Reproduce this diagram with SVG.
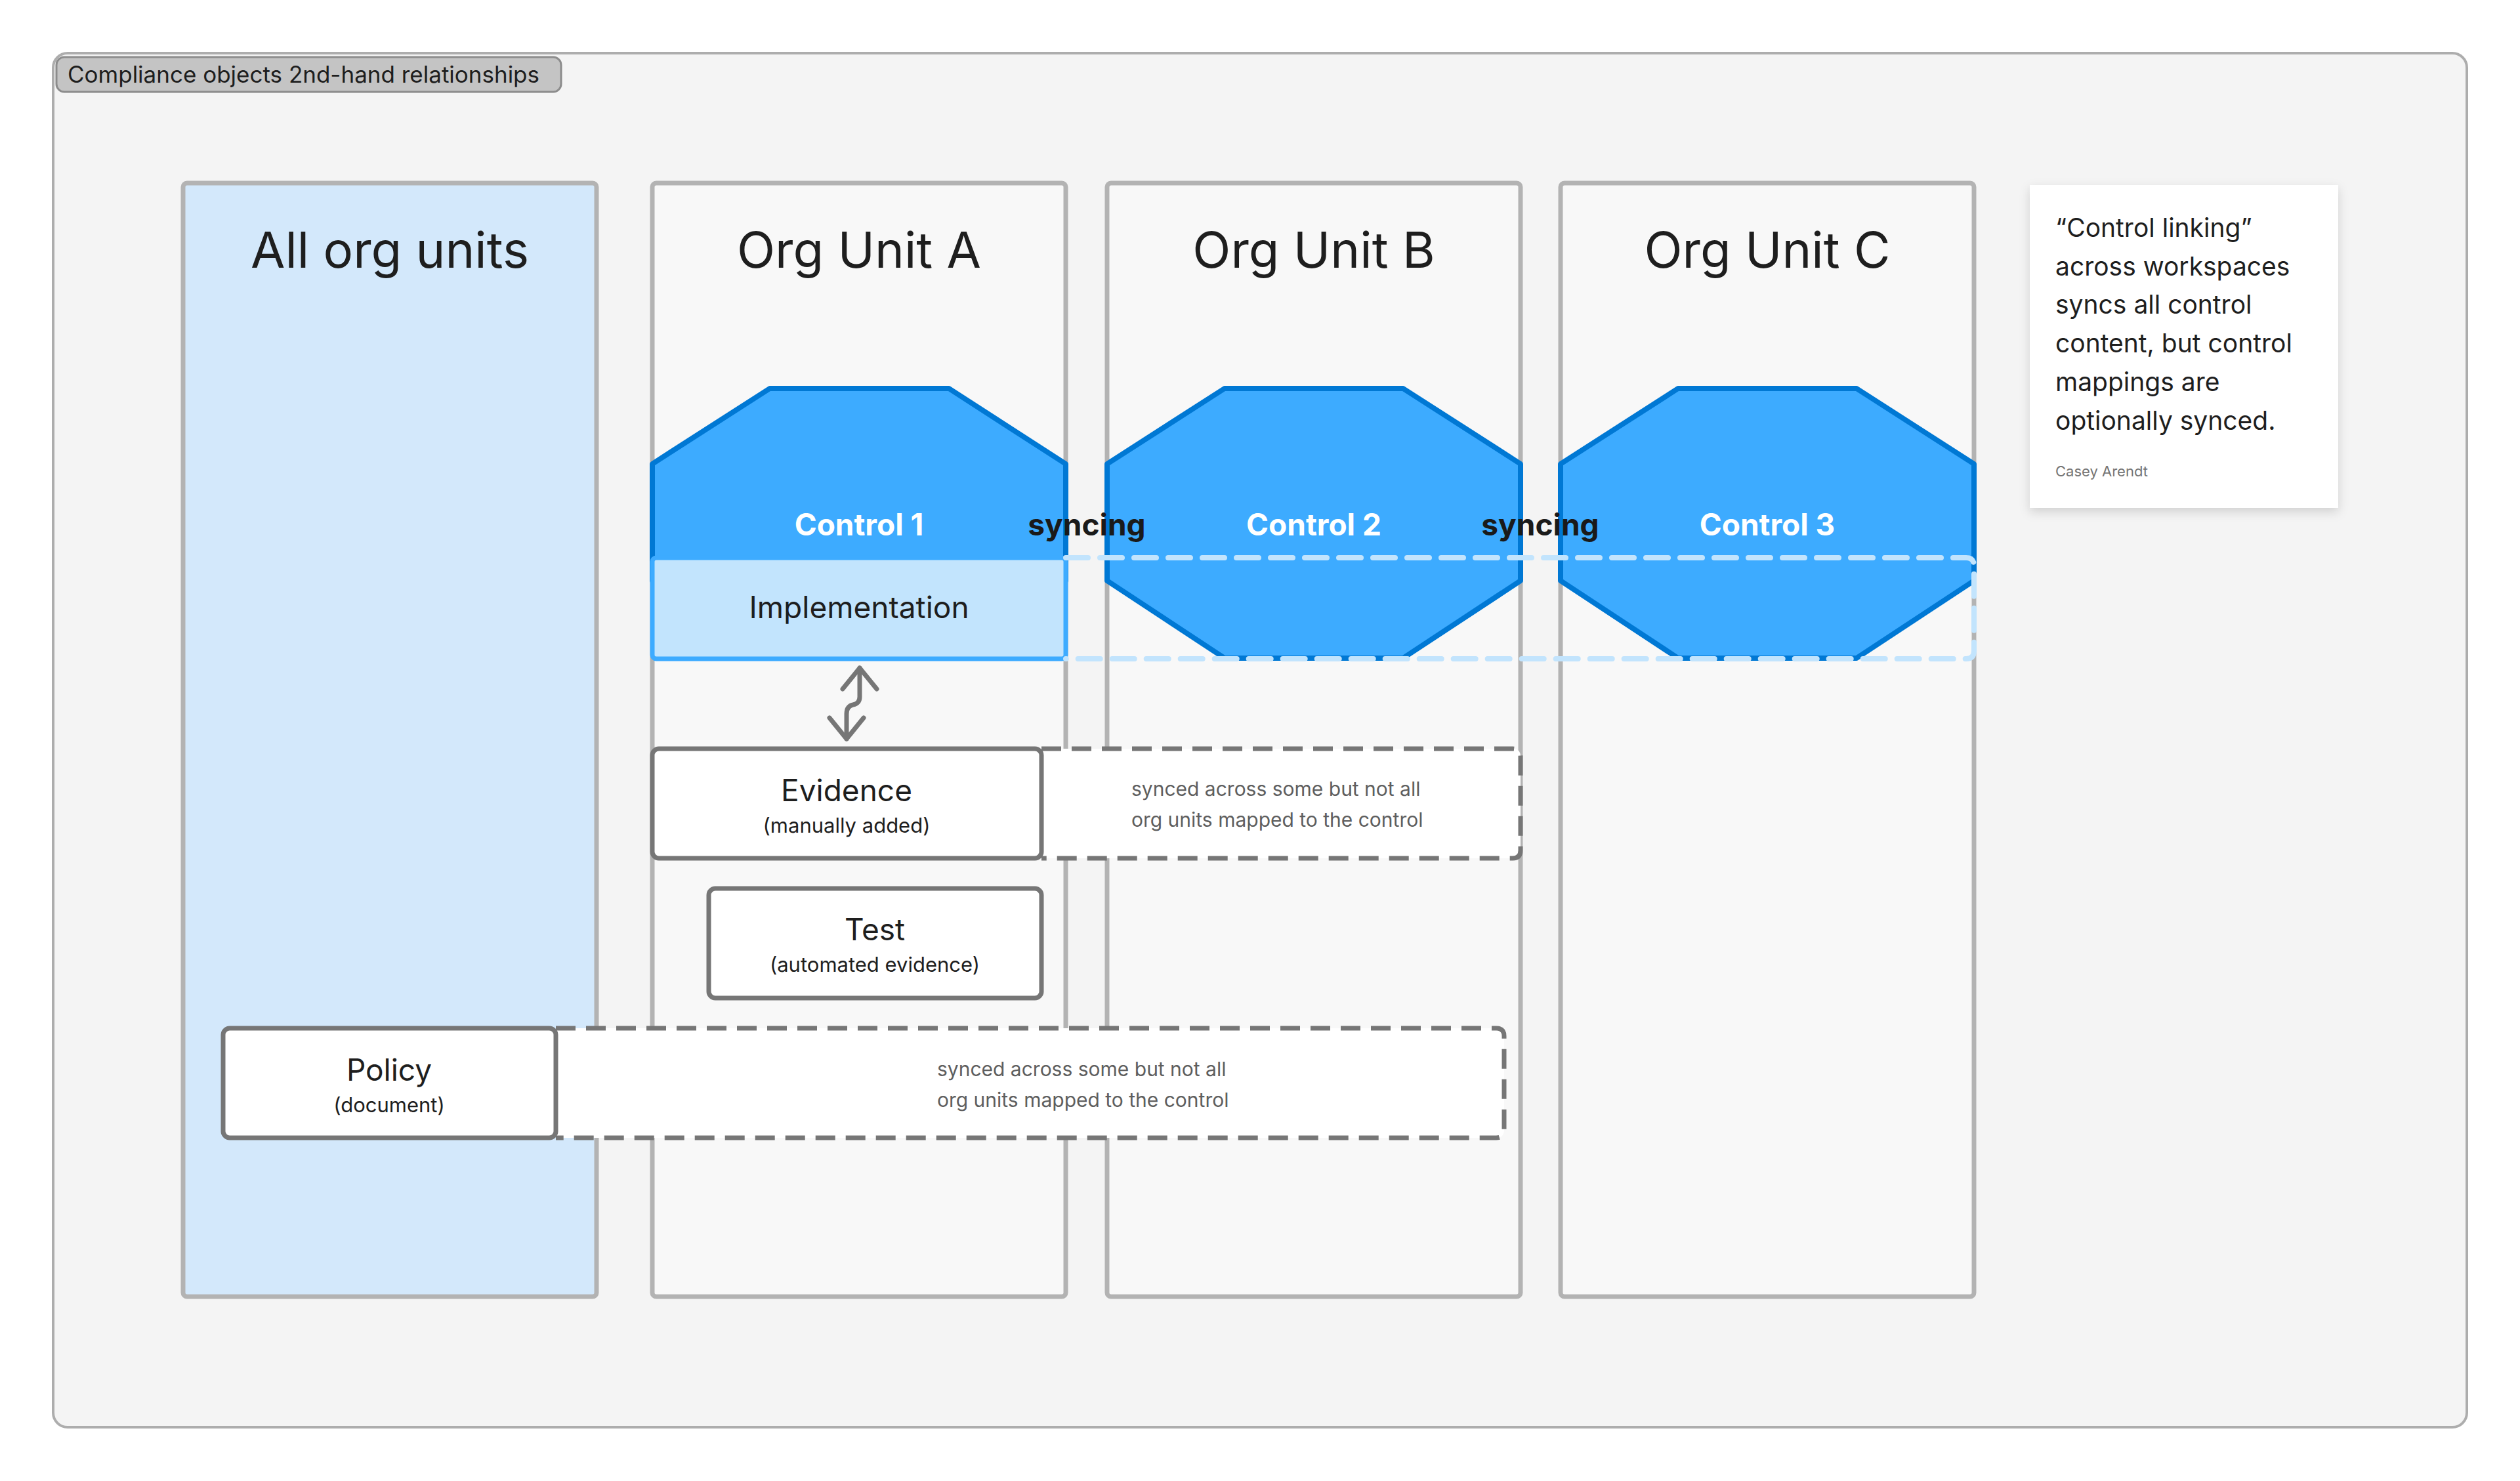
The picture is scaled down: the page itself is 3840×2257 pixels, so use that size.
<svg xmlns="http://www.w3.org/2000/svg" width="3840" height="2257" viewBox="0 0 3840 2257">
<style>
.col{fill:#f8f8f8;stroke:#b3b3b3;stroke-width:7}
.title{font-family:Inter,"Liberation Sans",sans-serif;font-size:76px;fill:#1e1e1e;text-anchor:middle}
.ctrl{fill:#3dabff;stroke:#0078d4;stroke-width:8;stroke-linejoin:round}
.ctext{font-family:Inter,"Liberation Sans",sans-serif;font-size:46px;font-weight:bold;fill:#fff;text-anchor:middle}
.sync{font-family:Inter,"Liberation Sans",sans-serif;font-size:46px;font-weight:bold;fill:#1a1a1a;text-anchor:middle}
.box{fill:#fff;stroke:#767676;stroke-width:7}
.dash{fill:#fff;stroke:#767676;stroke-width:7;stroke-dasharray:30 16}
.bt{font-family:Inter,"Liberation Sans",sans-serif;font-size:46px;fill:#1e1e1e;text-anchor:middle}
.bs{font-family:Inter,"Liberation Sans",sans-serif;font-size:31px;fill:#1e1e1e;text-anchor:middle}
.note{font-family:Inter,"Liberation Sans",sans-serif;font-size:30px;fill:#5e5e5e}
.st{font-family:Inter,"Liberation Sans",sans-serif;font-size:39px;fill:#1e1e1e}
.arr{fill:none;stroke:#767676;stroke-width:7;stroke-linecap:round;stroke-linejoin:round}
</style>
<defs>
<filter id="sh" x="-10%" y="-10%" width="120%" height="130%"><feDropShadow dx="0" dy="6" stdDeviation="8" flood-color="#000" flood-opacity="0.15"/></filter>
</defs>
<rect width="3840" height="2257" fill="#ffffff"/>
<g id="frame">
<rect x="81" y="81" width="3678" height="2094" rx="22" fill="#f4f4f4" stroke="#adadad" stroke-width="4"/>
<rect x="86" y="87" width="769" height="53" rx="12" fill="#c4c4c4" stroke="#8c8c8c" stroke-width="3"/>
<text x="103" y="126" font-family="Inter,'Liberation Sans',sans-serif" font-size="35" fill="#1e1e1e">Compliance objects 2nd-hand relationships</text>
</g>
<g id="col-all"><rect x="279" y="279" width="630" height="1697" rx="6" fill="#d3e8fb" stroke="#b3b3b3" stroke-width="7"/><text class="title" x="594" y="408">All org units</text></g>
<g id="col-a"><rect class="col" x="994" y="279" width="630" height="1697" rx="6"/><text class="title" x="1309" y="408">Org Unit A</text></g>
<g id="col-b"><rect class="col" x="1687" y="279" width="630" height="1697" rx="6"/><text class="title" x="2002" y="408">Org Unit B</text></g>
<g id="col-c"><rect class="col" x="2378" y="279" width="630" height="1697" rx="6"/><text class="title" x="2693" y="408">Org Unit C</text></g>
<g id="control1"><polygon class="ctrl" points="1173,592 1446,592 1624,707 1624,885 1446,1003 1173,1003 994,885 994,707"/><text class="ctext" x="1309" y="816">Control 1</text></g>
<g id="control2"><polygon class="ctrl" points="1866,592 2138,592 2317,707 2317,885 2138,1003 1866,1003 1687,885 1687,707"/><text class="ctext" x="2002" y="816">Control 2</text></g>
<g id="control3"><polygon class="ctrl" points="2557,592 2829,592 3008,707 3008,885 2829,1003 2557,1003 2378,885 2378,707"/><text class="ctext" x="2693" y="816">Control 3</text></g>
<g id="implementation"><rect x="994" y="850" width="630" height="154" rx="6" fill="#c2e4fd" stroke="#3dabff" stroke-width="7"/><text class="bt" x="1309" y="942">Implementation</text></g>
<g id="syncing"><text class="sync" x="1656" y="816">syncing</text><text class="sync" x="2347" y="816">syncing</text></g>
<g id="sync-region"><path d="M1624,850 H2996 Q3008,850 3008,862 V992 Q3008,1004 2996,1004 H1624" fill="none" stroke="#c2e4fd" stroke-width="8" stroke-dasharray="34 18" stroke-linecap="round"/></g>
<g id="evidence">
<path class="dash" d="M1587,1141 H2305 Q2317,1141 2317,1153 V1296 Q2317,1308 2305,1308 H1587"/>
<rect class="box" x="994" y="1141" width="593" height="167" rx="10"/>
<text class="bt" x="1290" y="1221">Evidence</text><text class="bs" x="1290" y="1269">(manually added)</text>
<text class="note" x="1724" y="1213">synced across some but not all</text><text class="note" x="1724" y="1260">org units mapped to the control</text>
</g>
<g id="test"><rect class="box" x="1080" y="1354" width="507" height="167" rx="10"/><text class="bt" x="1333" y="1433">Test</text><text class="bs" x="1333" y="1481">(automated evidence)</text></g>
<g id="policy">
<path class="dash" d="M847,1567 H2280 Q2292,1567 2292,1579 V1722 Q2292,1734 2280,1734 H847"/>
<rect class="box" x="340" y="1567" width="507" height="167" rx="10"/>
<text class="bt" x="593" y="1647">Policy</text><text class="bs" x="593" y="1695">(document)</text>
<text class="note" x="1428" y="1640">synced across some but not all</text><text class="note" x="1428" y="1687">org units mapped to the control</text>
</g>
<g id="connectors">
<path class="arr" d="M1310,1018 V1062 Q1310,1072 1300,1074 Q1290,1076 1290,1088 V1126"/>
<path class="arr" d="M1284,1050 L1310,1018 L1336,1050"/>
<path class="arr" d="M1264,1094 L1290,1126 L1316,1094"/>
</g>
<g id="sticky">
<rect x="3093" y="282" width="470" height="492" fill="#fff" filter="url(#sh)"/>
<text class="st" x="3132" y="361">“Control linking”</text>
<text class="st" x="3132" y="420">across workspaces</text>
<text class="st" x="3132" y="478">syncs all control</text>
<text class="st" x="3132" y="537">content, but control</text>
<text class="st" x="3132" y="596">mappings are</text>
<text class="st" x="3132" y="655">optionally synced.</text>
<text x="3132" y="726" font-family="Inter,'Liberation Sans',sans-serif" font-size="22" fill="#757575">Casey Arendt</text>
</g>
</svg>
